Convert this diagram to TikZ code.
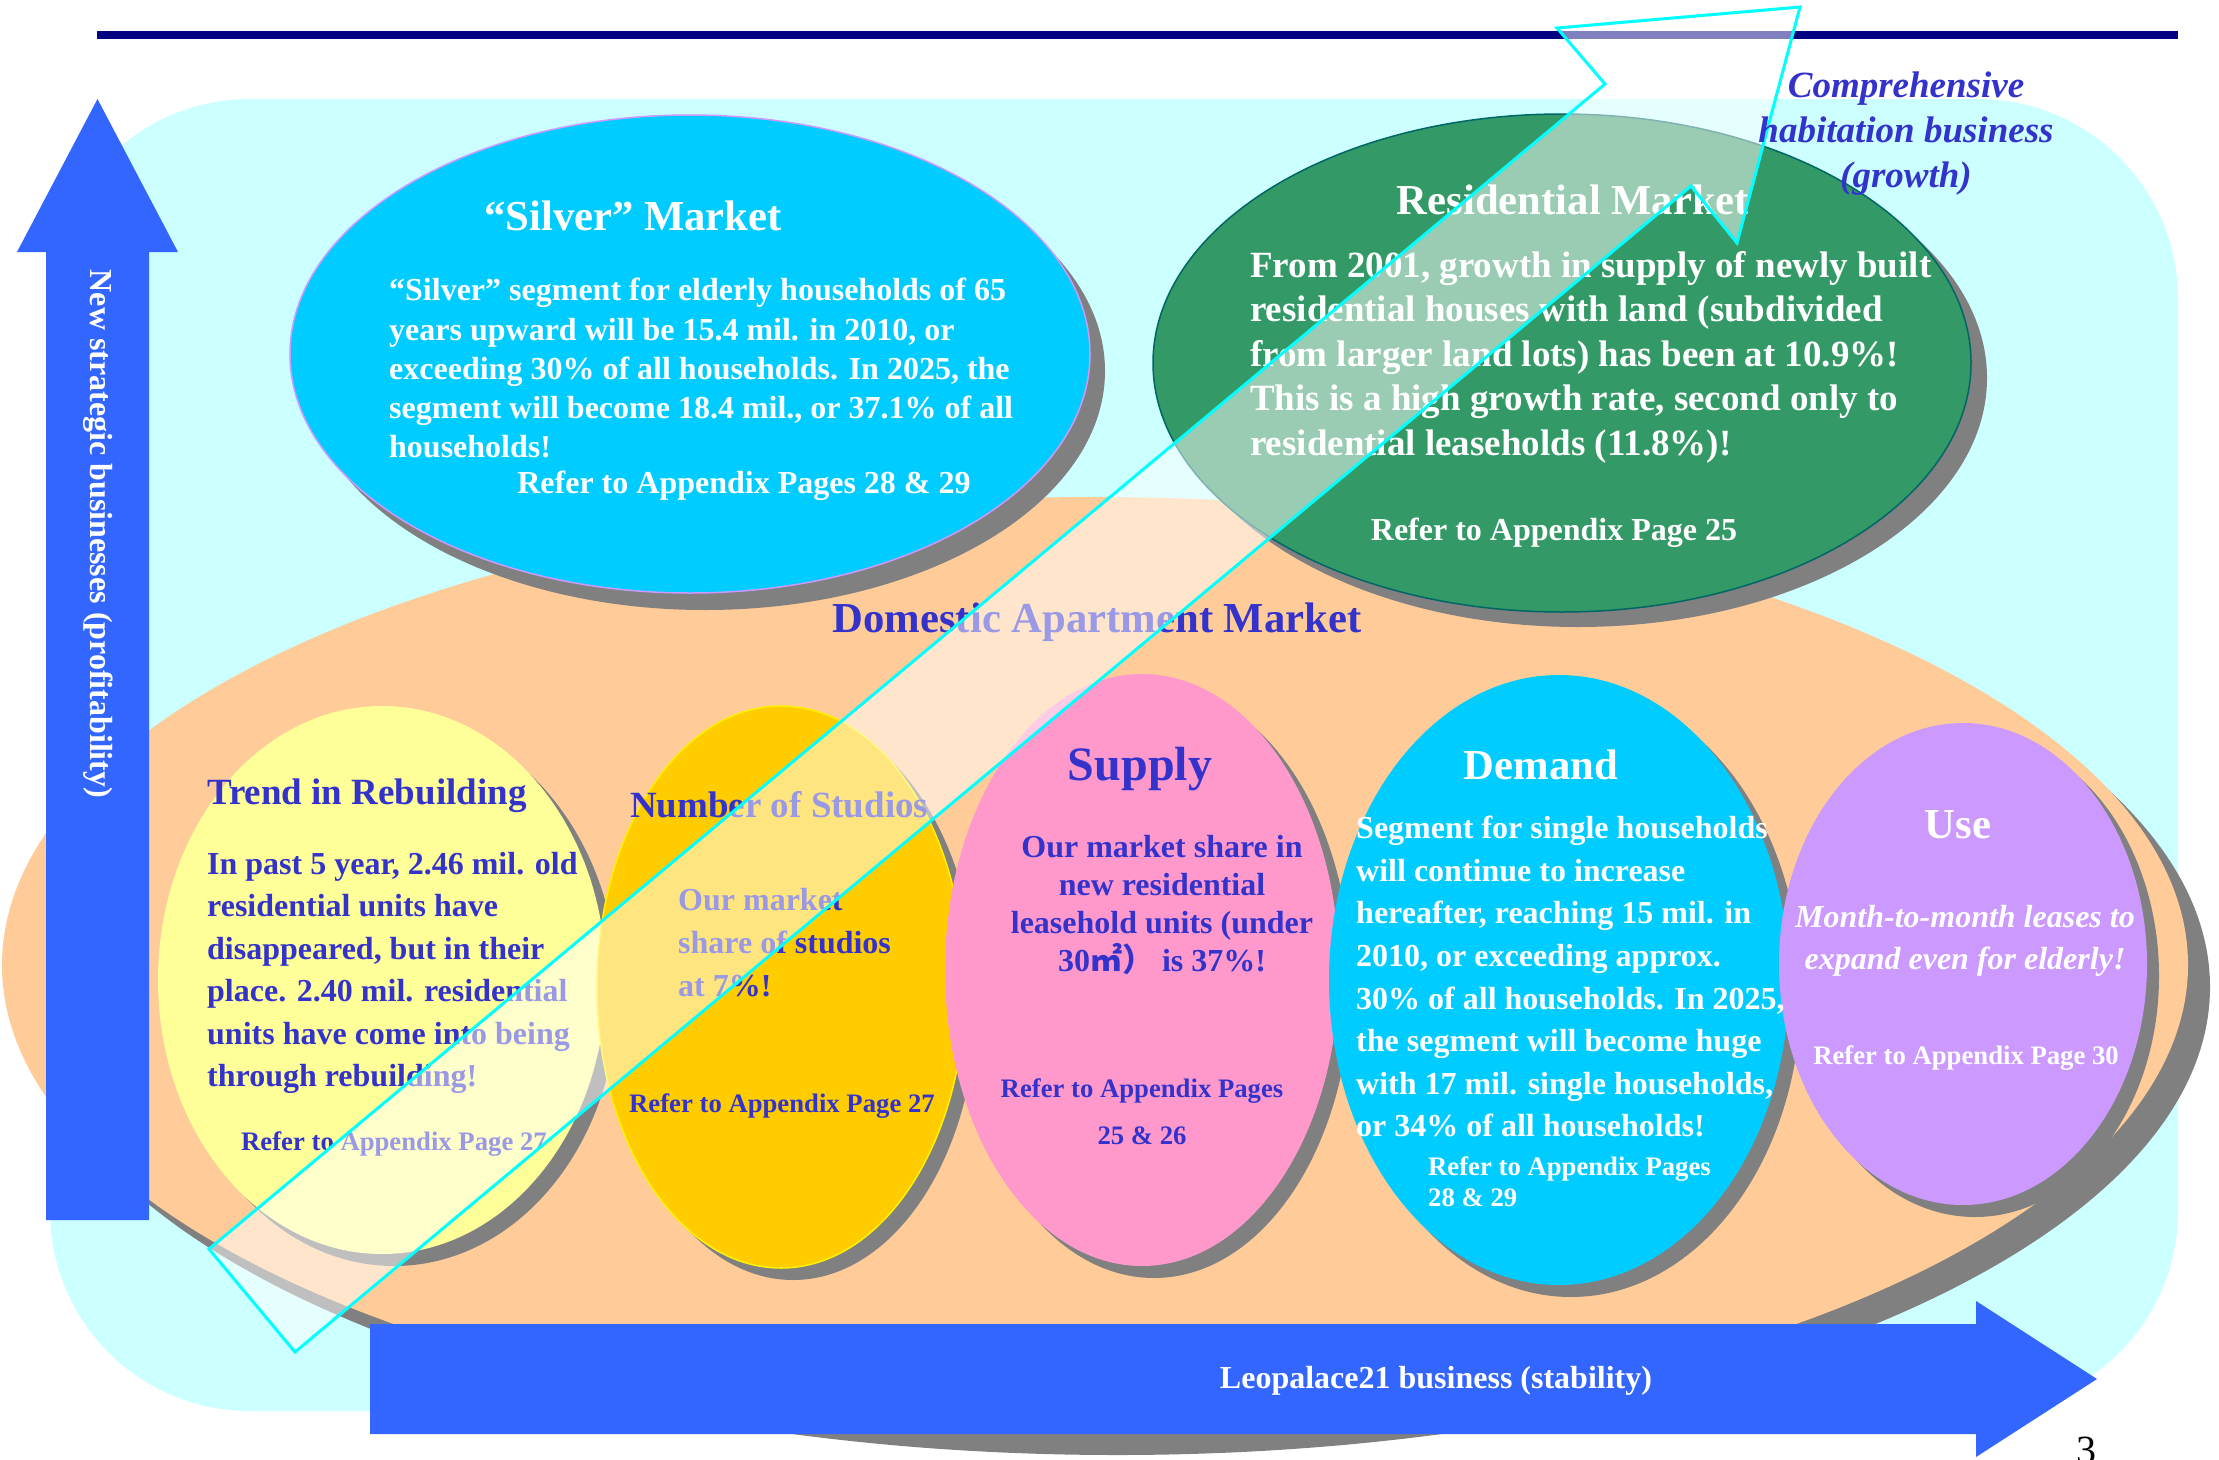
\documentclass[tikz,border=0pt]{standalone}
\usepackage{fontspec}
\setmainfont{Liberation Serif}
\newfontfamily\cjk{Noto Sans CJK JP}
\usetikzlibrary{shapes.geometric,shadows}
\definecolor{navyline}{HTML}{000080}
\definecolor{bgcyan}{HTML}{CCFFFF}
\definecolor{peach}{HTML}{FFCC99}
\definecolor{shadowgray}{HTML}{808080}
\definecolor{skyfill}{HTML}{00CCFF}
\definecolor{violetline}{HTML}{CC99FF}
\definecolor{greenfill}{HTML}{339966}
\definecolor{tealline}{HTML}{006666}
\definecolor{paleyellow}{HTML}{FFFF99}
\definecolor{goldfill}{HTML}{FFCC00}
\definecolor{pinkfill}{HTML}{FF99CC}
\definecolor{lilac}{HTML}{CC99FF}
\definecolor{arrowblue}{HTML}{3366FF}
\definecolor{textblue}{HTML}{3333CC}
\definecolor{cyanline}{HTML}{00FFFF}
\newcommand\myfs[2]{\fontsize{#1}{#2}\selectfont}
\begin{document}
\begin{tikzpicture}[x=1pt,y=-1pt,
  oval/.style={ellipse, inner sep=0pt, draw=none},
  sh/.style={drop shadow={shadow xshift=#1pt, shadow yshift=-#1pt, fill=shadowgray, opacity=1}},
  lbl/.style={inner sep=0pt, font=\bfseries},
  wt/.style={lbl, text=white},
  bt/.style={lbl, text=textblue},
  bigarrow/.style={fill=arrowblue, draw=none}]
\useasboundingbox (0,0) rectangle (2219,1459);
\clip (0,0) rectangle (2219,1459);
\fill[white] (0,0) rectangle (2219,1459);
% background
\fill[bgcyan, rounded corners=200pt] (50,99) rectangle (2178,1411);
\fill[navyline] (97,31) rectangle (2178,39);
% domestic market
\node[oval, sh=22, fill=peach, minimum width=2186pt, minimum height=936pt] (domestic) at (1095,965) {};
% upper ellipses
\node[oval, drop shadow={shadow xshift=15pt, shadow yshift=-17pt, fill=shadowgray, opacity=1}, fill=skyfill, draw=violetline, line width=1.5pt, minimum width=800pt, minimum height=478pt] (silver) at (690,354) {};
\node[oval, drop shadow={shadow xshift=16pt, shadow yshift=-15pt, fill=shadowgray, opacity=1}, fill=greenfill, draw=tealline, line width=1.5pt, minimum width=818pt, minimum height=498pt] (resid) at (1562,363) {};
% lower ellipses
\node[oval, sh=12, fill=paleyellow, minimum width=448pt, minimum height=548pt] (trend) at (382,980) {};
\node[oval, sh=12, fill=goldfill, draw=yellow, line width=1.5pt, minimum width=368pt, minimum height=562pt] (studios) at (781,987) {};
\node[oval, sh=12, fill=pinkfill, minimum width=394pt, minimum height=592pt] (supply) at (1142,970) {};
\node[oval, sh=12, fill=skyfill, minimum width=460pt, minimum height=610pt] (demand) at (1559,980) {};
\node[oval, sh=12, fill=lilac, minimum width=368pt, minimum height=482pt] (use) at (1963,964) {};
% blue arrows
\fill[bigarrow] (46,1220) -- (46,252) -- (17,252) -- (97.5,99) -- (178,252) -- (149,252) -- (149,1220) -- cycle;
\fill[bigarrow] (370,1324) -- (1976,1324) -- (1976,1301) -- (2097,1379) -- (1976,1457) -- (1976,1434) -- (370,1434) -- cycle;
\node[wt, rotate=-90, font=\bfseries\myfs{32}{38}] (vlabel) at (98,534) {New strategic businesses (profitability)};
\node[wt, anchor=mid, font=\bfseries\myfs{32}{38}] (hlabel) at (1436,1386) {Leopalace21 business (stability)};
% silver market texts
\node[wt, anchor=mid, font=\bfseries\myfs{42.7}{50}] (silvertitle) at (633,228) {“Silver” Market};
\node[wt, anchor=north west, align=left, font=\bfseries\myfs{32}{39.3}] (silverbody) at (389,278) {“Silver” segment for elderly households of 65\\years upward will be 15.4 mil. in 2010, or\\exceeding 30\% of all households. In 2025, the\\segment will become 18.4 mil., or 37.1\% of all\\households!};
\node[wt, anchor=mid, font=\bfseries\myfs{32}{38}] (silverref) at (744,491) {Refer to Appendix Pages 28 \& 29};
% residential market texts
\node[wt, anchor=mid, font=\bfseries\myfs{42.7}{50}] (residtitle) at (1573,212) {Residential Market};
\node[wt, anchor=north west, align=left, font=\bfseries\myfs{37}{44.5}] (residbody) at (1250,251) {From 2001, growth in supply of newly built\\residential houses with land (subdivided\\from larger land lots) has been at 10.9\%!\\This is a high growth rate, second only to\\residential leaseholds (11.8\%)!};
\node[wt, anchor=mid, font=\bfseries\myfs{32}{38}] (residref) at (1554,538) {Refer to Appendix Page 25};
% domestic title
\node[bt, anchor=mid, font=\bfseries\myfs{42.7}{50}] (domestictitle) at (1097,630) {Domestic Apartment Market};
% trend
\node[bt, anchor=mid west, font=\bfseries\myfs{37}{44}] (trendtitle) at (207,802) {Trend in Rebuilding};
\node[bt, anchor=north west, align=left, font=\bfseries\myfs{32}{42.4}] (trendbody) at (207,852) {In past 5 year, 2.46 mil. old\\residential units have\\disappeared, but in their\\place. 2.40 mil. residential\\units have come into being\\through rebuilding!};
\node[bt, anchor=mid west, font=\bfseries\myfs{26.7}{32}] (trendref) at (241,1148) {Refer to Appendix Page 27};
% studios
\node[bt, anchor=mid west, font=\bfseries\myfs{37}{44}] (studiostitle) at (630,815) {Number of Studios};
\node[bt, anchor=north west, align=left, font=\bfseries\myfs{32}{43}] (studiosbody) at (678,888) {Our market\\share of studios\\at 7\%!};
\node[bt, anchor=mid west, font=\bfseries\myfs{26.7}{32}] (studiosref) at (629,1110) {Refer to Appendix Page 27};
% supply
\node[bt, anchor=mid, font=\bfseries\myfs{48}{56}] (supplytitle) at (1140,778) {Supply};
\node[bt, anchor=north, align=center, font=\bfseries\myfs{32}{38}] (supplybody) at (1162,835) {Our market share in\\new residential\\leasehold units (under\\30{\cjk ㎡）} is 37\%!};
\node[bt, anchor=north, align=center, font=\bfseries\myfs{26.7}{47}] (supplyref) at (1142,1078) {Refer to Appendix Pages\\25 \& 26};
% demand
\node[wt, anchor=mid, font=\bfseries\myfs{42.7}{50}] (demandtitle) at (1541,777) {Demand};
\node[wt, anchor=north west, align=left, font=\bfseries\myfs{32}{42.6}] (demandbody) at (1356,816) {Segment for single households\\will continue to increase\\hereafter, reaching 15 mil. in\\2010, or exceeding approx.\\30\% of all households. In 2025,\\the segment will become huge\\with 17 mil. single households,\\or 34\% of all households!};
\node[wt, anchor=north west, align=left, font=\bfseries\myfs{26.7}{31}] (demandref) at (1428,1156) {Refer to Appendix Pages\\28 \& 29};
% use
\node[wt, anchor=mid, font=\bfseries\myfs{42.7}{50}] (usetitle) at (1958,836) {Use};
\node[wt, anchor=north, align=center, font=\bfseries\itshape\myfs{32}{42}] (usebody) at (1965,905) {Month-to-month leases to\\expand even for elderly!};
\node[wt, anchor=mid, font=\bfseries\myfs{26.7}{32}] (useref) at (1966,1062) {Refer to Appendix Page 30};
% diagonal growth arrow
\draw[cyanline, line width=3pt, fill=white, fill opacity=0.5, line join=miter]
  (209,1249) -- (1605,84) -- (1557,28) -- (1800,7) -- (1737,243) -- (1691,186) -- (295,1352) -- cycle;
\node[bt, anchor=north, align=center, font=\bfseries\itshape\myfs{37}{45}] (growthlabel) at (1906,72) {Comprehensive\\habitation business\\(growth)};
\node[inner sep=0pt, anchor=base, font=\myfs{40}{46}] (pagenum) at (2086,1463) {3};
\end{tikzpicture}
\end{document}
